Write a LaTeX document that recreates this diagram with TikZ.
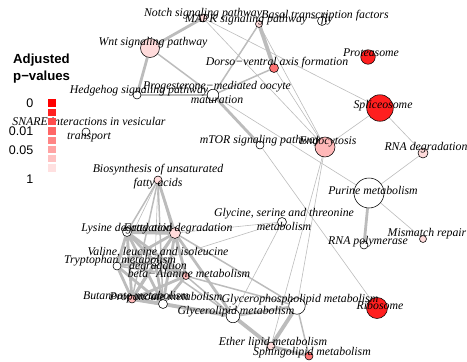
\documentclass[tikz,border=0pt]{standalone}
\usepackage{fontspec}
\setmainfont{Liberation Serif}
\setsansfont{Liberation Sans}
\usetikzlibrary{backgrounds}

\definecolor{edgegray}{RGB}{188,188,188}

\begin{document}
\begin{tikzpicture}[%
x=1pt, y=-1pt,
vtx/.style={circle, draw=black, line width=0.55pt, inner sep=0pt, minimum size=#1, fill=white},
vtx/.default=8,
sig1/.style={fill=red!88!white},
sig2/.style={fill=red!55!white},
sig3/.style={fill=red!28!white},
sig4/.style={fill=red!14!white},
lbl/.style={font=\fontsize{11.8}{14}\selectfont\itshape, align=center, inner sep=0pt},
ew1/.style={draw=edgegray, line width=0.6pt},
ew2/.style={draw=edgegray, line width=1.5pt},
ew3/.style={draw=edgegray, line width=2.8pt},
ew4/.style={draw=edgegray, line width=3.8pt}
]
\useasboundingbox (0,0) rectangle (467,362);

\node[vtx=8,sig4] (notch) at (203,18) {};
\node[vtx=7,sig4] (mapk) at (259,24) {};
\node[vtx=9] (basal) at (322,21) {};
\node[vtx=19,sig4] (wnt) at (150,48) {};
\node[vtx=8] (hedgehog) at (137,95) {};
\node[vtx=11.5] (progest) at (213,95) {};
\node[vtx=9,sig2] (dorso) at (274,68) {};
\node[vtx=14.5,sig1] (proteasome) at (368,57) {};
\node[vtx=26.5,sig1] (spliceo) at (380,108) {};
\node[vtx=8] (snare) at (86,132) {};
\node[vtx=8] (mtor) at (260,145) {};
\node[vtx=20,sig3] (endocyt) at (325,147) {};
\node[vtx=10,sig4] (rnadeg) at (423,153) {};
\node[vtx=30] (purine) at (369,193) {};
\node[vtx=8,sig4] (biosyn) at (158,180) {};
\node[vtx=9] (glycine) at (282,222) {};
\node[vtx=8] (rnapol) at (364,245) {};
\node[vtx=7,sig4] (mismatch) at (423,239) {};
\node[vtx=21,sig1] (ribosome) at (377,308) {};
\node[vtx=16.5] (glyphos) at (297,306) {};
\node[vtx=13.5] (glylip) at (233,316) {};
\node[vtx=8,sig4] (ether) at (271,346) {};
\node[vtx=8,sig2] (sphingo) at (309,356) {};
\node[vtx=9] (lysine) at (127,232) {};
\node[vtx=11,sig4] (fatty) at (175,233) {};
\node[vtx=8] (valine) at (155,262) {};
\node[vtx=8] (trypto) at (117,266) {};
\node[vtx=7,sig3] (betaala) at (186,276) {};
\node[vtx=8,sig3] (butan) at (132,299) {};
\node[vtx=9] (propan) at (163,304) {};

\begin{scope}[on background layer]
% signalling part
\path (wnt) edge[ew3] (notch);
\path (wnt) edge[ew3] (hedgehog);
\path (wnt) edge[ew2] (progest);
\path (hedgehog) edge[ew3] (progest);
\path (mapk) edge[ew4] (dorso);
\path (mapk) edge[ew2] (progest);
\path (dorso) edge[ew2] (progest);
\path (progest) edge[ew3] (mtor);
\path (progest) edge[ew1] (purine);
\path (notch) edge[ew1] (endocyt);
\path (notch) edge[ew1] (spliceo);
\path (mapk) edge[ew1] (endocyt);
\path (dorso) edge[ew1] (endocyt);
\path (spliceo) edge[ew1] (endocyt);
\path (spliceo) edge[ew1] (rnadeg);
\path (rnadeg) edge[ew1] (purine);
\path (purine) edge[ew3] (rnapol);
\path (purine) edge[ew1] (mismatch);
\path (mtor) edge[ew1] (ribosome);
\path (endocyt) edge[ew1] (ether);
\path (endocyt) edge[ew1] (glyphos);
\path (glycine) edge[ew1] (fatty);
\path (glycine) edge[ew1] (valine);
\path (glycine) edge[ew1] (glylip);
% metabolism part
\path (biosyn) edge[ew2] (lysine);
\path (biosyn) edge[ew3] (fatty);
\path (biosyn) edge[ew1] (valine);
\path (biosyn) edge[ew1] (trypto);
\path (biosyn) edge[ew2] (betaala);
\path (biosyn) edge[ew2] (butan);
\path (biosyn) edge[ew2] (propan);
\path (lysine) edge[ew4] (fatty);
\path (lysine) edge[ew3] (valine);
\path (lysine) edge[ew3] (trypto);
\path (lysine) edge[ew3] (betaala);
\path (lysine) edge[ew3] (butan);
\path (lysine) edge[ew3] (propan);
\path (fatty) edge[ew3] (valine);
\path (fatty) edge[ew3] (trypto);
\path (fatty) edge[ew3] (betaala);
\path (fatty) edge[ew3] (butan);
\path (fatty) edge[ew3] (propan);
\path (fatty) edge[ew3] (glylip);
\path (fatty) edge[ew2] (glyphos);
\path (valine) edge[ew3] (trypto);
\path (valine) edge[ew3] (betaala);
\path (valine) edge[ew3] (butan);
\path (valine) edge[ew3] (propan);
\path (valine) edge[ew2] (glylip);
\path (trypto) edge[ew2] (betaala);
\path (trypto) edge[ew3] (butan);
\path (trypto) edge[ew3] (propan);
\path (betaala) edge[ew3] (butan);
\path (betaala) edge[ew3] (propan);
\path (betaala) edge[ew2] (glylip);
\path (betaala) edge[ew2] (glyphos);
\path (butan) edge[ew4] (propan);
\path (butan) edge[ew3] (glylip);
\path (propan) edge[ew4] (glylip);
\path (glylip) edge[ew3] (glyphos);
\path (glylip) edge[ew4] (ether);
\path (glyphos) edge[ew4] (ether);
\path (glyphos) edge[ew2] (sphingo);
\path (ether) edge[ew3] (sphingo);
\end{scope}

\node[lbl] (t-notch) at (203,14) {Notch signaling pathway};
\node[lbl] (t-mapk) at (259,20) {MAPK signaling pathway − fly};
\node[lbl] (t-basal) at (325,16) {Basal transcription factors};
\node[lbl] (t-wnt) at (153,43) {Wnt signaling pathway};
\node[lbl] (t-hedgehog) at (139,91) {Hedgehog signaling pathway};
\node[lbl] (t-progest) at (217,92.5) {Progesterone−mediated oocyte\\maturation};
\node[lbl] (t-dorso) at (277,63) {Dorso−ventral axis formation};
\node[lbl] (t-proteasome) at (371,53) {Proteasome};
\node[lbl] (t-spliceo) at (383,106) {Spliceosome};
\node[lbl] (t-snare) at (89,129.5) {SNARE interactions in vesicular\\transport};
\node[lbl] (t-mtor) at (260,141) {mTOR signaling pathway};
\node[lbl] (t-endocyt) at (328,142) {Endocytosis};
\node[lbl] (t-rnadeg) at (426,148) {RNA degradation};
\node[lbl] (t-purine) at (373,190) {Purine metabolism};
\node[lbl] (t-biosyn) at (158,177) {Biosynthesis of unsaturated\\fatty acids};
\node[lbl] (t-glycine) at (284,219) {Glycine, serine and threonine\\metabolism};
\node[lbl] (t-rnapol) at (368,242) {RNA polymerase};
\node[lbl] (t-mismatch) at (427,234) {Mismatch repair};
\node[lbl] (t-ribosome) at (380,305) {Ribosome};
\node[lbl] (t-glyphos) at (300,300) {Glycerophospholipid metabolism};
\node[lbl] (t-glylip) at (236,312) {Glycerolipid metabolism};
\node[lbl] (t-ether) at (273,343) {Ether lipid metabolism};
\node[lbl] (t-sphingo) at (312,353) {Sphingolipid metabolism};
\node[lbl] (t-lysine) at (127,229) {Lysine degradation};
\node[lbl] (t-fatty) at (178,229) {Fatty acid degradation};
\node[lbl] (t-valine) at (158,259.5) {Valine, leucine and isoleucine\\degradation};
\node[lbl] (t-trypto) at (120,261) {Tryptophan metabolism};
\node[lbl] (t-betaala) at (189,273) {beta−Alanine metabolism};
\node[lbl] (t-butan) at (136,295) {Butanoate metabolism};
\node[lbl] (t-propan) at (166,298) {Propanoate metabolism};

% legend
\node[font=\sffamily\bfseries\fontsize{13.2}{17}\selectfont, align=left, anchor=west, inner sep=0pt] (legtitle) at (13,68.5) {Adjusted\\p−values};
\foreach \c [count=\i] in {100,87,70,60,48,36,24,12}
  \fill[red!\c!white] (48.4,{99.3+(\i-1)*9.3}) rectangle ++(7.3,7.3);
\node[font=\sffamily\fontsize{12.5}{14}\selectfont, anchor=east, inner sep=0pt] (leg0) at (33.5,103) {0};
\node[font=\sffamily\fontsize{12.5}{14}\selectfont, anchor=east, inner sep=0pt] (leg1) at (33.5,131.5) {0.01};
\node[font=\sffamily\fontsize{12.5}{14}\selectfont, anchor=east, inner sep=0pt] (leg2) at (33.5,150.5) {0.05};
\node[font=\sffamily\fontsize{12.5}{14}\selectfont, anchor=east, inner sep=0pt] (leg3) at (33.5,179.5) {1};

\end{tikzpicture}
\end{document}
